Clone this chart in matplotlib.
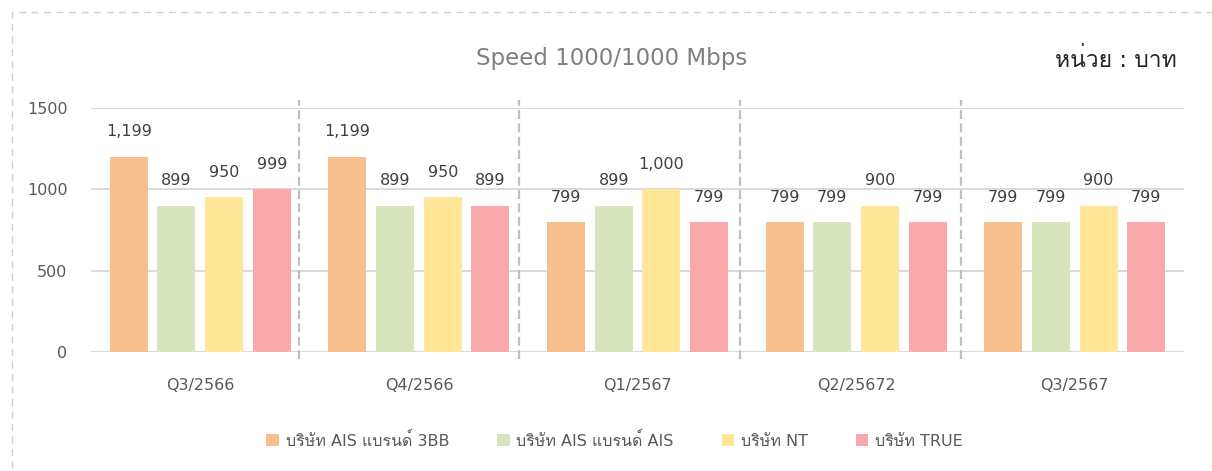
import numpy as np
import matplotlib
matplotlib.use("Agg")
import matplotlib.pyplot as plt
from matplotlib import font_manager
from matplotlib.ft2font import FT2Font
from matplotlib.patches import Rectangle

# data
quarters = ['Q3/2566', 'Q4/2566', 'Q1/2567', 'Q2/25672', 'Q3/2567']
series = ['บริษัท AIS แบรนด์ 3BB', 'บริษัท AIS แบรนด์ AIS', 'บริษัท NT', 'บริษัท TRUE']
ais_3bb = [1199, 1199, 799, 799, 799]
ais_ais = [899, 899, 899, 799, 799]
nt = [950, 950, 1000, 900, 900]
true_ = [999, 899, 799, 799, 799]
values = [ais_3bb, ais_ais, nt, true_]
colors = ['#F9C08F', '#D8E4BC', '#FFE699', '#FAA9AA']

# look for any installed font that has thai glyphs
thai_fonts = []
for f in font_manager.fontManager.ttflist:
    try:
        if 0x0E1A in FT2Font(f.fname).get_charmap() and f.name not in thai_fonts:
            thai_fonts.append(f.name)
    except Exception:
        pass
plt.rcParams['font.family'] = ['DejaVu Sans'] + thai_fonts

fig = plt.figure(figsize=(12.12, 4.71), dpi=100)
ax = fig.add_axes([91/1212, 119/471, 1093/1212, 244/471])

x = np.arange(len(quarters)) + 0.5
step = 0.218
width = 0.174
for j, (vals, name, c) in enumerate(zip(values, series, colors)):
    pos = x + (j - 1.5) * step
    bars = ax.bar(pos, vals, width, color=c, label=name, zorder=3)
    for b, v in zip(bars, vals):
        ax.annotate(f'{v:,}', (b.get_x() + b.get_width()/2, v), xytext=(0, 18),
                    textcoords='offset points', ha='center', va='center',
                    fontsize=11.5, color='#404040')

ax.set_xlim(0, 5)
ax.set_ylim(0, 1500)
ax.set_yticks([0, 500, 1000, 1500])
ax.set_xticks(x)
ax.set_xticklabels(quarters)
ax.tick_params(axis='both', length=0, labelsize=11.5, labelcolor='#595959')
ax.tick_params(axis='y', pad=17)
ax.tick_params(axis='x', pad=19)
for s in ax.spines.values():
    s.set_visible(False)
ax.yaxis.grid(True, color='#D9D9D9', linewidth=1.4, zorder=0)
ax.set_axisbelow(True)

# dashed separators between quarters
sep_x = [0.95, 1.96, 2.97, 3.98]
for sx in sep_x:
    ax.plot([sx, sx], [-0.029, 1.033], transform=ax.get_xaxis_transform(),
            color='#BFBFBF', linewidth=1.6, linestyle=(0, (4, 2)), clip_on=False, zorder=2)

fig.text(612/1212, 1 - 58/471, 'Speed 1000/1000 Mbps', ha='center', va='center',
         fontsize=16.5, color='#7F7F7F')
fig.text(1177/1212, 1 - 60/471, 'หน่วย : บาท', ha='right', va='center',
         fontsize=16.5, color='#262626')

fig.legend(loc='center', bbox_to_anchor=(0.507, 1 - 440/471), ncol=4, frameon=False,
           fontsize=11.5, labelcolor='#595959', handlelength=0.8, handleheight=0.8,
           handletextpad=0.4, columnspacing=3.0)

# dashed outer frame (only top and left visible)
fig.patches.append(Rectangle((12/1212, -0.1), 1.2, 1.1 - 12/471, transform=fig.transFigure,
                             fill=False, edgecolor='#D0D0D0', linewidth=1.0,
                             linestyle=(0, (5, 4))))

fig.savefig('out.png', dpi=100)
